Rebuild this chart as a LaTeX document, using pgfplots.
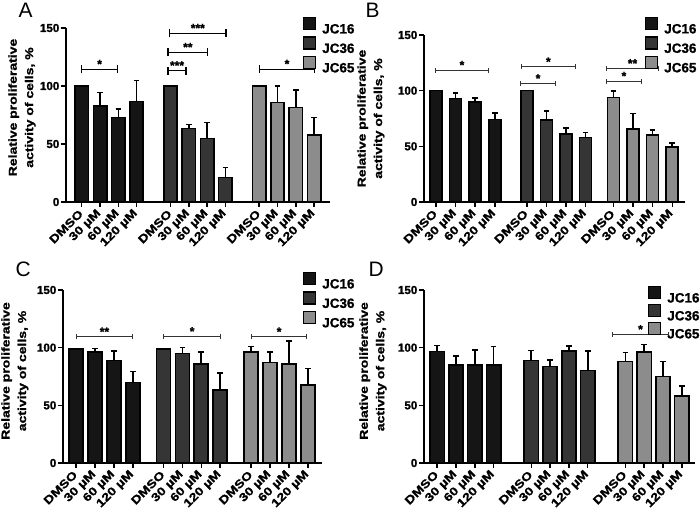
\documentclass[border=0pt]{standalone}
\usepackage{fontspec}
\setmainfont{Liberation Sans}
\newfontfamily\widefont[FakeStretch=1.22, FakeBold=1.2]{Liberation Sans}
\newfontfamily\heavyfont[FakeBold=1.2]{Liberation Sans}
\usepackage{pgfplots}
\pgfplotsset{compat=1.18}
\usetikzlibrary{arrows.meta}

\definecolor{cA}{HTML}{151515}
\definecolor{cB}{HTML}{353535}
\definecolor{cC}{HTML}{8C8C8C}

\pgfplotsset{
  panel/.style={
    scale only axis,
    anchor=south west,
    clip=false,
    axis lines=left,
    axis line style={-, line width=1.8bp, black},
    ymin=0, ymax=150,
    ytick={0,50,100,150},
    tick align=outside,
    major tick length=5bp,
    tick style={line width=1.5bp, black},
    yticklabel={\heavyfont\bfseries\fontsize{11.6}{11.6}\selectfont\pgfmathprintnumber[assume math mode=true]{\tick}},
    yticklabel style={inner sep=1.5bp},
    xticklabels={DMSO,30 µM,60 µM,120 µM,DMSO,30 µM,60 µM,120 µM,DMSO,30 µM,60 µM,120 µM},
    xticklabel shift=4bp,
    xticklabel style={rotate=45, anchor=east, inner sep=1bp,
      font=\widefont\bfseries\fontsize{11.5}{11.5}\selectfont},
    ylabel={Relative proliferative\\activity of cells, \%},
    ylabel style={align=center, rotate=0,
      font=\widefont\bfseries\fontsize{11.5}{16.5}\selectfont},
    legend style={draw=none, fill=none, inner sep=0pt, outer sep=0pt,
      anchor=north west, row sep=3bp, column sep=6bp,
      font=\heavyfont\bfseries\fontsize{13.5}{13.5}\selectfont,
      nodes={inner sep=0pt, text height=9.7bp, text depth=0bp}},
    legend cell align=left,
  },
  bars/.style={ybar, bar shift=0pt, draw=black, line width=1.6bp, forget plot,
    error bars/y dir=plus, error bars/y explicit,
    error bars/error bar style={line width=1.6bp, black, solid},
    error bars/error mark options={rotate=90, mark size=2.8bp, line width=1.6bp, black}},
  sq/.style={legend image code/.code={\draw[fill=#1, draw=black, line width=1.2bp] (0bp,-1bp) rectangle (12bp,11bp);}},
}
\tikzset{
  sigA/.style={line width=1.3bp, black, {Bar[width=8bp]}-{Bar[width=8bp]}},
  sig/.style={line width=0.9bp, black!80, {Bar[width=5bp]}-{Bar[width=5bp]}},
  star/.style={midway, above, inner sep=0.5bp, text=black, font=\heavyfont\bfseries\fontsize{12}{12}\selectfont},
}

\newcommand\legendentries{%
  \addlegendimage{sq=cA}\addlegendentry{JC16}
  \addlegendimage{sq=cB}\addlegendentry{JC36}
  \addlegendimage{sq=cC}\addlegendentry{JC65}}

\begin{document}
\begin{tikzpicture}
\useasboundingbox (0,0) rectangle (700bp,513bp);

% ---------------- Panel A ----------------
\node[anchor=base west, font=\fontsize{21}{21}\selectfont] at (15bp,495bp) {A};
\begin{axis}[panel, at={(66bp,311bp)}, width=264bp, height=174bp,
  xmin=-0.86, xmax=13.57,
  xtick={0,1,2,3,4.85,5.85,6.85,7.85,9.7,10.7,11.7,12.7},
  ylabel style={at={(axis description cs:-0.102,0.543)}, anchor=south},
  legend style={at={(axis description cs:0.898,1.063)}}]
\addplot[bars, fill=cA, bar width=0.73] table[x=x, y=y, y error=e] {
x y e
0 100 0
1 82.8 11.5
2 72.7 7.5
3 86.5 18.2
};
\addplot[bars, fill=cB, bar width=0.73] table[x=x, y=y, y error=e] {
x y e
4.85 100 0
5.85 63.5 3.4
6.85 54.8 13.6
7.85 21.0 8.7
};
\addplot[bars, fill=cC, bar width=0.73] table[x=x, y=y, y error=e] {
x y e
9.7 100 0
10.7 85.7 14.3
11.7 81.6 15.0
12.7 57.7 15.3
};
\legendentries
\draw[sigA] (axis cs:-0.04,114.4) -- (axis cs:1.99,114.4) node[star] {*};
\draw[sigA] (axis cs:4.68,113.2) -- (axis cs:5.74,113.2) node[star] {***};
\draw[sigA] (axis cs:4.68,129) -- (axis cs:6.92,129) node[star] {**};
\draw[sigA] (axis cs:4.77,145.4) -- (axis cs:7.92,145.4) node[star] {***};
\draw[sigA] (axis cs:9.69,114.5) -- (axis cs:12.75,114.5) node[star] {*};
\end{axis}

% ---------------- Panel B ----------------
\node[anchor=base west, font=\fontsize{21}{21}\selectfont] at (362bp,495bp) {B};
\begin{axis}[panel, at={(424bp,311bp)}, width=261bp, height=167bp,
  xmin=-0.61, xmax=12.7,
  xtick={0,1,2,3,4.63,5.63,6.63,7.63,9.05,10.05,11.05,12.05},
  ylabel style={at={(axis description cs:-0.138,0.5)}, anchor=south},
  legend style={at={(axis description cs:0.847,1.108)}}]
\addplot[bars, fill=cA, bar width=0.61] table[x=x, y=y, y error=e] {
x y e
0 100 0
1 93.0 5.0
2 90.0 3.6
3 74.1 5.9
};
\addplot[bars, fill=cB, bar width=0.61] table[x=x, y=y, y error=e] {
x y e
4.63 100 0
5.63 73.5 8.1
6.63 60.9 5.7
7.63 57.9 4.5
};
\addplot[bars, fill=cC, bar width=0.61] table[x=x, y=y, y error=e] {
x y e
9.05 93.9 6.0
10.05 65.4 14.1
11.05 60.0 4.5
12.05 49.5 3.6
};
\legendentries
\draw[sig] (axis cs:-0.05,118.5) -- (axis cs:2.7,118.5) node[star] {*};
\draw[sig] (axis cs:4.29,106.5) -- (axis cs:6.12,106.5) node[star] {*};
\draw[sig] (axis cs:4.32,121.5) -- (axis cs:7.14,121.5) node[star] {*};
\draw[sig] (axis cs:8.67,108.6) -- (axis cs:10.5,108.6) node[star] {*};
\draw[sig] (axis cs:8.67,120) -- (axis cs:11.38,120) node[star] {**};
\end{axis}

% ---------------- Panel C ----------------
\node[anchor=base west, font=\fontsize{21}{21}\selectfont] at (12bp,236bp) {C};
\begin{axis}[panel, at={(63bp,50bp)}, width=259bp, height=173bp,
  xmin=-0.69, xmax=13.0,
  xtick={0,1,2,3,4.62,5.62,6.62,7.62,9.26,10.26,11.26,12.26},
  ylabel style={at={(axis description cs:-0.12,0.532)}, anchor=south},
  legend style={at={(axis description cs:0.927,1.104)}}]
\addplot[bars, fill=cA, bar width=0.74] table[x=x, y=y, y error=e] {
x y e
0 98.6 0
1 96.5 2.9
2 88.8 8.2
3 69.7 9.6
};
\addplot[bars, fill=cB, bar width=0.74] table[x=x, y=y, y error=e] {
x y e
4.62 98.6 0
5.62 95.0 5.0
6.62 85.9 10.6
7.62 63.4 14.4
};
\addplot[bars, fill=cC, bar width=0.74] table[x=x, y=y, y error=e] {
x y e
9.26 96.0 4.9
10.26 87.3 9.2
11.26 85.6 20.2
12.26 67.7 14.3
};
\legendentries
\draw[sig] (axis cs:0,109.5) -- (axis cs:3,109.5) node[star] {**};
\draw[sig] (axis cs:4.62,109.8) -- (axis cs:7.65,109.8) node[star] {*};
\draw[sig] (axis cs:9.26,109.5) -- (axis cs:12.2,109.5) node[star] {*};
\end{axis}

% ---------------- Panel D ----------------
\node[anchor=base west, font=\fontsize{21}{21}\selectfont] at (365bp,236bp) {D};
\begin{axis}[panel, at={(424bp,50bp)}, width=271bp, height=173bp,
  xmin=-0.7, xmax=13.7,
  xtick={0,1,2,3,5,6,7,8,10,11,12,13},
  ylabel style={at={(axis description cs:-0.125,0.532)}, anchor=south},
  legend style={at={(axis description cs:0.827,1.023)}, row sep=1.5bp}]
\addplot[bars, fill=cA, bar width=0.76] table[x=x, y=y, y error=e] {
x y e
0 96.6 5.2
1 85.0 7.8
2 85.0 12.8
3 85.0 16.0
};
\addplot[bars, fill=cB, bar width=0.76] table[x=x, y=y, y error=e] {
x y e
5 88.8 8.7
6 83.6 5.5
7 96.9 4.6
8 80.2 17.0
};
\addplot[bars, fill=cC, bar width=0.76] table[x=x, y=y, y error=e] {
x y e
10 88.0 7.8
11 96.5 6.1
12 75.0 13.0
13 58.3 8.6
};
\legendentries
\draw[sig] (axis cs:9.31,111.6) -- (axis cs:12.3,111.6) node[star] {*};
\end{axis}
\end{tikzpicture}
\end{document}
